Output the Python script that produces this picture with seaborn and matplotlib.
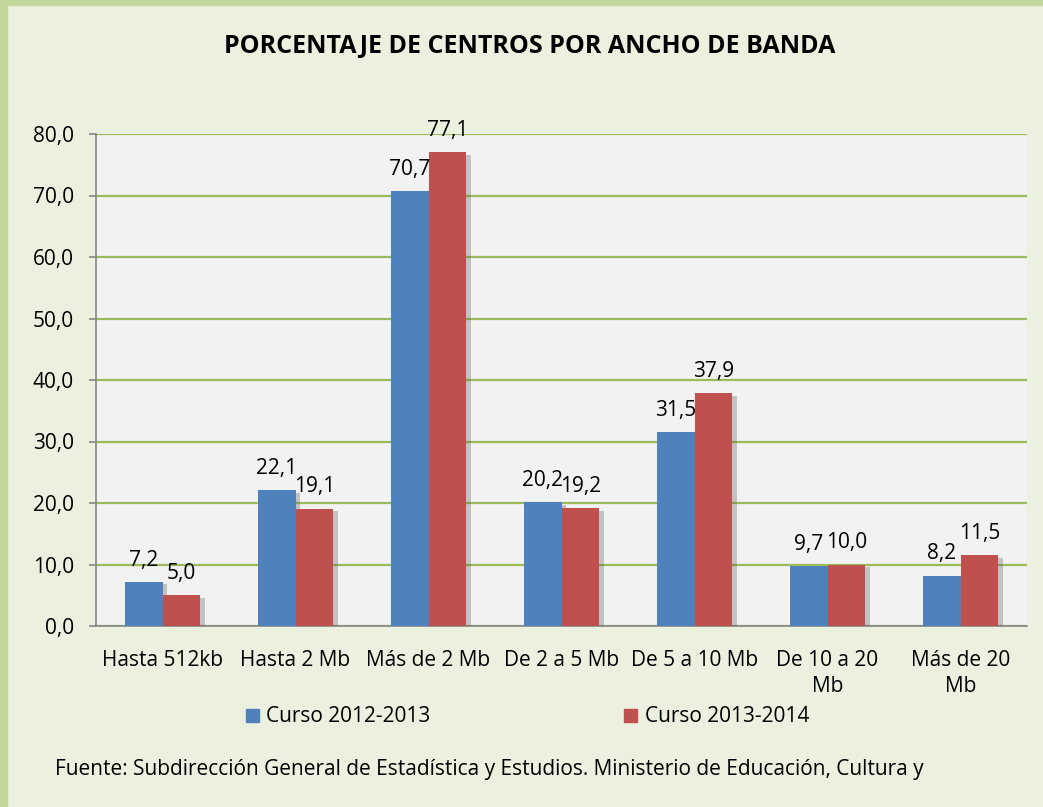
import numpy as np
import pandas as pd
import matplotlib
matplotlib.use("Agg")
import matplotlib.pyplot as plt
import matplotlib.patheffects as pe
from matplotlib.patches import Rectangle
from matplotlib.ticker import FuncFormatter, FixedLocator
import seaborn as sns

# data
categorias = ["Hasta 512kb", "Hasta 2 Mb", "Más de 2 Mb", "De 2 a 5 Mb",
              "De 5 a 10 Mb", "De 10 a 20\nMb", "Más de 20\nMb"]
curso_2012 = [7.2, 22.1, 70.7, 20.2, 31.5, 9.7, 8.2]
curso_2013 = [5.0, 19.1, 77.1, 19.2, 37.9, 10.0, 11.5]
series = ["Curso 2012-2013", "Curso 2013-2014"]
titulo = "PORCENTAJE DE CENTROS POR ANCHO DE BANDA"
fuente = ("Fuente: Subdirección General de Estadística y Estudios. "
          "Ministerio de Educación, Cultura y")

df = pd.DataFrame({
    "categoria": categorias * 2,
    "valor": curso_2012 + curso_2013,
    "serie": [series[0]] * len(categorias) + [series[1]] * len(categorias),
})

sns.set_style("white")
plt.rcParams["font.family"] = ["Open Sans", "DejaVu Sans"]
plt.rcParams["text.color"] = "black"
plt.rcParams["xtick.color"] = "black"
plt.rcParams["ytick.color"] = "black"

fig = plt.figure(figsize=(10.43, 8.07), dpi=100, facecolor="#EBF1DE")
# green frame on top / left
fig.patches.append(Rectangle((0, 0), 7 / 1043, 1, transform=fig.transFigure,
                             color="#C3D69B", zorder=0))
fig.patches.append(Rectangle((0, 1 - 5 / 807), 1, 5 / 807, transform=fig.transFigure,
                             color="#C3D69B", zorder=0))

ax = fig.add_axes([96 / 1043, 1 - 626 / 807, (1027 - 96) / 1043, (626 - 134) / 807])
ax.set_facecolor("#F2F2F2")

sns.barplot(data=df, x="categoria", y="valor", hue="serie",
            palette=["#4F81BD", "#C0504D"], width=0.57, gap=0,
            saturation=1, ax=ax, legend=False, zorder=3)

shadow = [pe.SimplePatchShadow(offset=(3, -2), alpha=0.3, shadow_rgbFace="#555555"),
          pe.Normal()]
for bar in ax.patches:
    bar.set_path_effects(shadow)
    bar.set_edgecolor("none")

for cont in ax.containers:
    ax.bar_label(cont, labels=[f"{v:.1f}".replace(".", ",") for v in cont.datavalues],
                 padding=8, fontsize=15)

ax.set_ylim(0, 80)
ax.set_xlim(-0.5, len(categorias) - 0.5)
ax.set_yticks(np.arange(0, 81, 10))
ax.yaxis.set_major_formatter(FuncFormatter(lambda v, p: f"{v:.1f}".replace(".", ",")))
ax.grid(axis="y", color="#9BBB59", linewidth=1.6, zorder=1)
ax.set_axisbelow(True)

ax.xaxis.set_minor_locator(FixedLocator(np.arange(-0.5, len(categorias), 1)))
ax.tick_params(axis="x", which="major", length=0, pad=17, labelsize=15)
ax.tick_params(axis="x", which="minor", length=5, color="#868686", width=1.2)
ax.tick_params(axis="y", which="major", length=5, color="#868686", width=1.2,
               labelsize=15, left=True, pad=11)
for lab in ax.get_xticklabels():
    lab.set_linespacing(1.35)
ax.set_xlabel("")
ax.set_ylabel("")

for side in ["top", "right"]:
    ax.spines[side].set_visible(False)
for side in ["left", "bottom"]:
    ax.spines[side].set_color("#868686")
    ax.spines[side].set_linewidth(1.2)

handles = [Rectangle((0, 0), 1, 1, color=c) for c in ["#4F81BD", "#C0504D"]]
fig.legend(handles, series, loc="center left", bbox_to_anchor=(246 / 1043, 1 - 717 / 807),
           ncol=2, frameon=False, fontsize=15, handlelength=0.6, handleheight=0.6,
           handletextpad=0.38, columnspacing=9.3, borderpad=0, borderaxespad=0)

fig.text(530 / 1043, 1 - 46 / 807, titulo, ha="center", va="center",
         fontsize=18, fontweight="bold")
fig.text(55 / 1043, 1 - 770 / 807, fuente, ha="left", va="center", fontsize=15)

fig.savefig("out.png", dpi=100, facecolor=fig.get_facecolor())
